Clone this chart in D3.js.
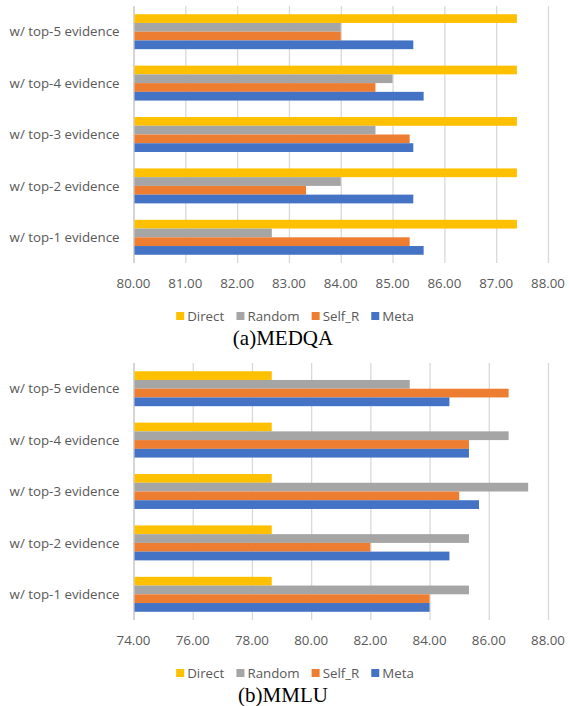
<!DOCTYPE html>
<html>
<head>
<meta charset="utf-8">
<script src="https://cdn.jsdelivr.net/npm/d3@7"></script>
<style>
  body { margin: 0; background: #fff; }
  svg { display: block; }
</style>
</head>
<body>
<div id="chart"></div>
<script>
/* DATA */
const categories = ["w/ top-5 evidence", "w/ top-4 evidence", "w/ top-3 evidence", "w/ top-2 evidence", "w/ top-1 evidence"];
const seriesNames = ["Direct", "Random", "Self_R", "Meta"];
const seriesColors = ["#FFC000", "#A5A5A5", "#ED7D31", "#4472C4"];

// MEDQA values, rows follow categories (top-5 ... top-1)
const medqaDirect = [87.40, 87.40, 87.40, 87.40, 87.40];
const medqaRandom = [84.00, 85.00, 84.67, 84.00, 82.67];
const medqaSelfR  = [84.00, 84.67, 85.33, 83.33, 85.33];
const medqaMeta   = [85.40, 85.60, 85.40, 85.40, 85.60];
const medqaTicks  = [80, 81, 82, 83, 84, 85, 86, 87, 88];

// MMLU values
const mmluDirect = [78.67, 78.67, 78.67, 78.67, 78.67];
const mmluRandom = [83.33, 86.67, 87.33, 85.33, 85.33];
const mmluSelfR  = [86.67, 85.33, 85.00, 82.00, 84.00];
const mmluMeta   = [84.67, 85.33, 85.67, 84.67, 84.00];
const mmluTicks  = [74, 76, 78, 80, 82, 84, 86, 88];

/* LAYOUT */
const W = 570, H = 706;
const plotLeft = 133.5, plotRight = 548;
const labelFont = "'Open Sans', 'Noto Sans', sans-serif";
const textColor = "#595959";

const svg = d3.select("#chart").append("svg")
  .attr("width", W)
  .attr("height", H);

drawPanel({
  top: 6, bottom: 263,
  series: [medqaDirect, medqaRandom, medqaSelfR, medqaMeta],
  ticks: medqaTicks,
  caption: "(a)MEDQA"
});

drawPanel({
  top: 363, bottom: 620,
  series: [mmluDirect, mmluRandom, mmluSelfR, mmluMeta],
  ticks: mmluTicks,
  caption: "(b)MMLU"
});

function drawPanel(p) {
  const g = svg.append("g");

  const x = d3.scaleLinear()
    .domain(d3.extent(p.ticks))
    .range([plotLeft, plotRight]);

  const y = d3.scaleBand()
    .domain(categories)
    .range([p.top, p.bottom])
    .paddingInner(0.32)
    .paddingOuter(0.16);

  const ySub = d3.scaleBand()
    .domain(seriesNames)
    .range([0, y.bandwidth()]);

  // gridlines
  g.selectAll("line.grid")
    .data(p.ticks)
    .join("line")
    .attr("class", "grid")
    .attr("x1", d => x(d) + 0.5)
    .attr("x2", d => x(d) + 0.5)
    .attr("y1", p.top)
    .attr("y2", p.bottom)
    .attr("stroke", (d, i) => i === 0 ? "#BFBFBF" : "#D9D9D9")
    .attr("stroke-width", 1.3);

  // bars
  const rows = categories.map((c, ci) => ({
    cat: c,
    vals: seriesNames.map((s, si) => ({ name: s, value: p.series[si][ci], color: seriesColors[si] }))
  }));

  const groups = g.selectAll("g.row")
    .data(rows)
    .join("g")
    .attr("class", "row")
    .attr("transform", d => `translate(0,${y(d.cat)})`);

  groups.selectAll("rect")
    .data(d => d.vals)
    .join("rect")
    .attr("x", x.range()[0] + 1)
    .attr("y", d => ySub(d.name))
    .attr("width", d => x(d.value) - x.range()[0] - 1)
    .attr("height", ySub.bandwidth())
    .attr("fill", d => d.color);

  // category labels
  g.selectAll("text.cat")
    .data(categories)
    .join("text")
    .attr("class", "cat")
    .attr("x", plotLeft - 14)
    .attr("y", d => y(d) + y.bandwidth() / 2)
    .attr("dy", "0.35em")
    .attr("text-anchor", "end")
    .attr("font-family", labelFont)
    .attr("font-size", 13.3)
    .attr("fill", textColor)
    .text(d => d);

  // tick labels
  g.selectAll("text.tick")
    .data(p.ticks)
    .join("text")
    .attr("class", "tick")
    .attr("x", d => x(d))
    .attr("y", p.bottom + 20)
    .attr("dy", "0.35em")
    .attr("text-anchor", "middle")
    .attr("font-family", labelFont)
    .attr("font-size", 13.3)
    .attr("fill", textColor)
    .text(d => d3.format(".2f")(d));

  // legend, centred
  const legend = g.append("g").attr("transform", `translate(0,${p.bottom + 53})`);
  const items = legend.selectAll("g")
    .data(seriesNames)
    .join("g");
  items.append("rect")
    .attr("width", 8)
    .attr("height", 8)
    .attr("y", -4)
    .attr("fill", (d, i) => seriesColors[i]);
  items.append("text")
    .attr("x", 11)
    .attr("dy", "0.35em")
    .attr("font-family", labelFont)
    .attr("font-size", 13.3)
    .attr("fill", textColor)
    .text(d => d);
  let cursor = 0;
  const offsets = [];
  items.each(function() {
    offsets.push(cursor);
    cursor += this.getBBox().width + 12;
  });
  const total = cursor - 12;
  const startX = 295 - total / 2;
  items.attr("transform", (d, i) => `translate(${startX + offsets[i]},0)`);

  // caption
  g.append("text")
    .attr("x", 283)
    .attr("y", p.bottom + 75)
    .attr("dy", "0.35em")
    .attr("text-anchor", "middle")
    .attr("font-family", "'Liberation Serif', 'Times New Roman', serif")
    .attr("font-size", 21)
    .attr("fill", "#000")
    .text(p.caption);
}
</script>
</body>
</html>
